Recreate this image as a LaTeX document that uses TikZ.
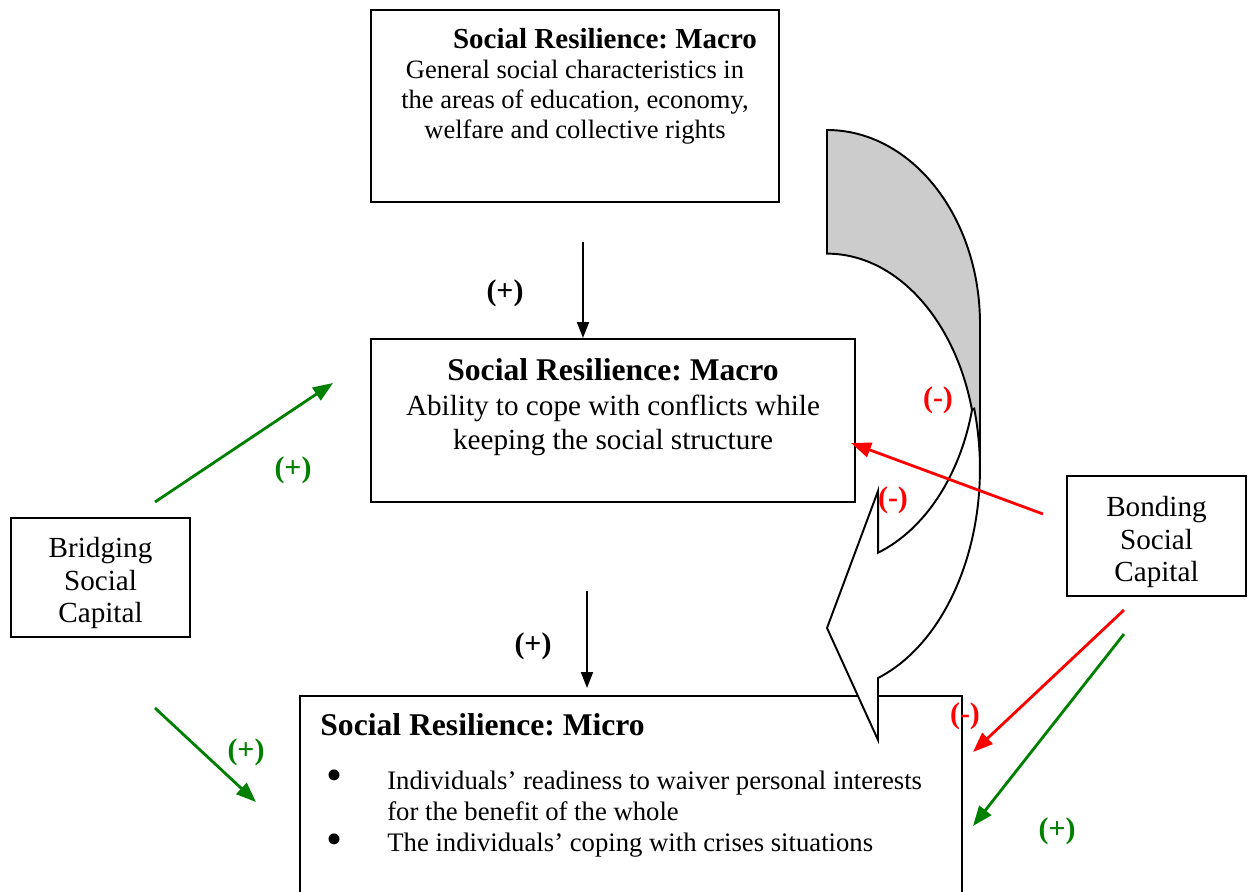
\documentclass[tikz,border=0pt]{standalone}
\usepackage{fontspec}
\setmainfont{Liberation Serif}
\usetikzlibrary{arrows.meta}
\definecolor{posgreen}{RGB}{0,128,0}
\definecolor{negred}{RGB}{255,0,0}
\definecolor{backgray}{RGB}{204,204,204}
\frenchspacing

\begin{document}
\begin{tikzpicture}[x=0.02cm, y=-0.02cm,
    box/.style={draw, line width=0.8pt, inner sep=0pt},
    sign/.style={font=\fontsize{17}{20}\selectfont\bfseries, inner sep=0pt},
    link/.style={line width=1.1pt, -{Triangle[length=0.32cm, width=0.24cm]}},
    colorlink/.style={line width=1.6pt, -{Triangle[length=0.4cm, width=0.3cm]}}]
    \useasboundingbox (0,0) rectangle (1251,892);

    % Boxes
    \node[box, minimum width=8.16cm, minimum height=3.84cm] (macroTop) at (575,106) {};
    \node[box, minimum width=9.68cm, minimum height=3.26cm] (macroMid) at (613,420.5) {};
    \node[box, minimum width=13.24cm, minimum height=4.6cm] (micro) at (631,811) {};
    \node[box, minimum width=3.58cm, minimum height=2.38cm] (bridging) at (100.5,577.5) {};
    \node[box, minimum width=3.58cm, minimum height=2.4cm] (bonding) at (1156.5,536) {};

    % Box texts
    \node[font=\fontsize{16.5}{19}\selectfont\bfseries, inner sep=0pt] (macroTopTitle) at (605,39) {Social Resilience: Macro};
    \node[align=center, font=\fontsize{15.1}{17}\selectfont, inner sep=0pt] (macroTopText) at (575,102) {General social characteristics in\\the areas of education, economy,\\welfare and collective rights};
    \node[font=\fontsize{18}{21}\selectfont\bfseries, inner sep=0pt] (macroMidTitle) at (613,370) {Social Resilience: Macro};
    \node[align=center, font=\fontsize{16.6}{19.3}\selectfont, inner sep=0pt] (macroMidText) at (613,425) {Ability to cope with conflicts while\\keeping the social structure};
    \node[align=center, font=\fontsize{16.6}{18.7}\selectfont, inner sep=0pt] (bridgingText) at (100.5,583) {Bridging\\Social\\Capital};
    \node[align=center, font=\fontsize{16.6}{18.7}\selectfont, inner sep=0pt] (bondingText) at (1156.5,542) {Bonding\\Social\\Capital};
    \node[anchor=west, font=\fontsize{18}{21}\selectfont\bfseries, inner sep=0pt] (microTitle) at (320,725) {Social Resilience: Micro};
    \node[font=\fontsize{26}{26}\selectfont, inner sep=0pt] (dotA) at (334,780) {\textbullet};
    \node[font=\fontsize{26}{26}\selectfont, inner sep=0pt] (dotB) at (334,844) {\textbullet};
    \node[anchor=west, align=left, font=\fontsize{15.2}{17.6}\selectfont, inner sep=0pt] (microTextA) at (387,796) {Individuals’ readiness to waiver personal interests\\for the benefit of the whole};
    \node[anchor=west, font=\fontsize{15.2}{17.6}\selectfont, inner sep=0pt] (microTextB) at (387,845) {The individuals’ coping with crises situations};

    % Curved arrow
    \draw[line width=1.1pt, fill=backgray] (827,130) arc[start angle=-90, end angle=0, x radius=153, y radius=194]
        -- (980,471) -- (972,410) arc[start angle=-14.8, end angle=-90, x radius=150, y radius=210] -- cycle;
    \draw[line width=1.1pt, fill=white] (972,410) arc[start angle=14.1, end angle=70, x radius=149.5, y radius=205]
        -- (878,491) -- (827,628) -- (878,740) -- (878,678)
        arc[start angle=70.5, end angle=-15.7, x radius=153, y radius=222] -- cycle;

    % Arrow ends
    \coordinate (topOut) at (583,242);
    \coordinate (midIn) at (583,338);
    \coordinate (midOut) at (587,591);
    \coordinate (microIn) at (587,688);
    \coordinate (bridgeUp) at (155,502);
    \coordinate (macroMidW) at (333,383);
    \coordinate (bridgeDown) at (155,708);
    \coordinate (microW) at (256,802);
    \coordinate (bondLeft) at (1043,514);
    \coordinate (macroMidE) at (851,443);
    \coordinate (bondDownA) at (1124,610);
    \coordinate (microEA) at (973,752);
    \coordinate (bondDownB) at (1124,634);
    \coordinate (microEB) at (973,826);

    % Arrows
    \draw[link] (topOut) -- (midIn);
    \draw[link] (midOut) -- (microIn);
    \draw[colorlink, posgreen] (bridgeUp) -- (macroMidW);
    \draw[colorlink, posgreen] (bridgeDown) -- (microW);
    \draw[colorlink, negred] (bondLeft) -- (macroMidE);
    \draw[colorlink, negred] (bondDownA) -- (microEA);
    \draw[colorlink, posgreen] (bondDownB) -- (microEB);

    % Signs
    \node[sign] (signTop) at (505,293) {(+)};
    \node[sign] (signMid) at (533,646) {(+)};
    \node[sign, posgreen] (signBridgeUp) at (293,470) {(+)};
    \node[sign, posgreen] (signBridgeDown) at (246,752) {(+)};
    \node[sign, negred] (signCurve) at (938,400) {(-)};
    \node[sign, negred] (signBondLeft) at (893,500) {(-)};
    \node[sign, negred] (signBondA) at (965,716) {(-)};
    \node[sign, posgreen] (signBondB) at (1057,831) {(+)};
\end{tikzpicture}
\end{document}
